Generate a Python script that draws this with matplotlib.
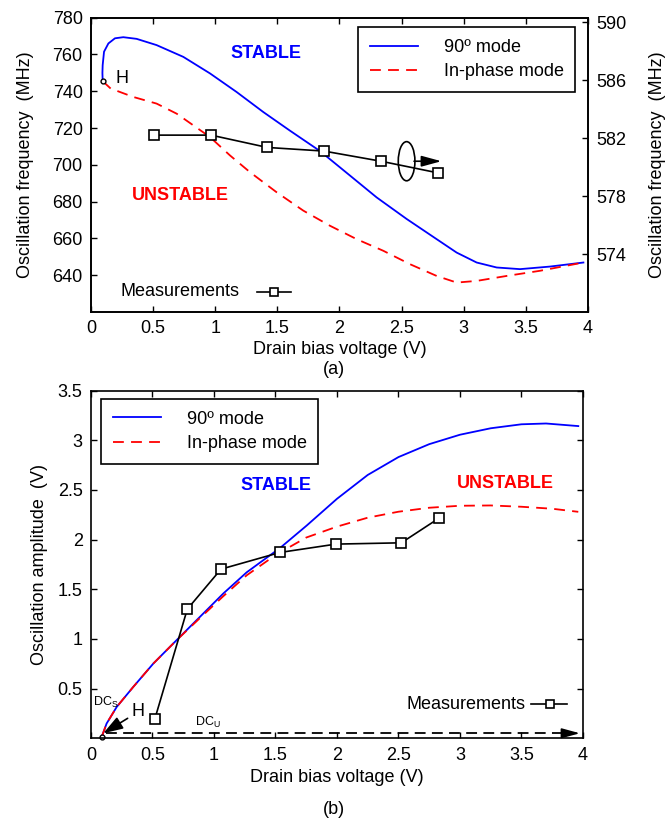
import matplotlib
matplotlib.use("Agg")
import matplotlib.pyplot as plt
from matplotlib.patches import Ellipse
from matplotlib.ticker import FuncFormatter

plt.rcParams['font.family'] = ['Liberation Sans', 'DejaVu Sans']
plt.rcParams['mathtext.fontset'] = 'custom'
plt.rcParams['mathtext.rm'] = 'Liberation Sans'

# ---- data, panel (a): oscillation frequency (MHz) ----
fa_90_x = [0.094, 0.092, 0.094, 0.105, 0.14, 0.193, 0.26, 0.367, 0.528, 0.743, 0.958,
           1.172, 1.387, 1.601, 1.843, 2.084, 2.299, 2.54, 2.782, 2.943, 3.104, 3.265,
           3.453, 3.694, 3.963]
fa_90_y = [745.5, 750, 754.2, 761.5, 766, 768.8, 769.4, 768.5, 765.1, 758.7, 749.7,
           739.6, 728.7, 718.6, 707.5, 694.2, 682.3, 670.6, 659.6, 652.3, 646.9, 644.2,
           643.3, 644.7, 646.9]
fa_ip_x = [0.094, 0.158, 0.341, 0.528, 0.69, 0.823, 0.958, 1.119, 1.28, 1.494, 1.709,
           1.923, 2.138, 2.352, 2.567, 2.782, 2.943, 3.104, 3.345, 3.613, 3.963]
fa_ip_y = [745.5, 741.5, 736.9, 733.3, 727.8, 721.5, 715.1, 705.1, 696.0, 685.1, 675.1,
           666.9, 659.6, 653.3, 646.0, 639.6, 636.0, 636.9, 639.6, 642.4, 646.9]
fa_meas_x = [0.51, 0.966, 1.419, 1.875, 2.334, 2.79]
fa_meas_y = [582.2, 582.2, 581.35, 581.1, 580.4, 579.6]   # right axis (MHz)

# ---- data, panel (b): oscillation amplitude (V) ----
amp_90_x = [0.087, 0.127, 0.209, 0.344, 0.507, 0.696, 0.886, 1.076, 1.266, 1.537,
            1.753, 2.0, 2.25, 2.5, 2.75, 3.0, 3.25, 3.5, 3.7, 3.962]
amp_90_y = [0.013, 0.148, 0.315, 0.517, 0.752, 0.987, 1.222, 1.457, 1.67, 1.915,
            2.14, 2.41, 2.65, 2.83, 2.96, 3.055, 3.12, 3.16, 3.168, 3.142]
amp_ip_x = [0.087, 0.127, 0.209, 0.344, 0.507, 0.696, 0.886, 1.076, 1.266, 1.45, 1.537,
            1.75, 2.0, 2.25, 2.5, 2.75, 3.0, 3.25, 3.5, 3.75, 3.962]
amp_ip_y = [0.013, 0.148, 0.315, 0.517, 0.752, 0.987, 1.21, 1.43, 1.64, 1.80, 1.87,
            2.02, 2.13, 2.22, 2.28, 2.32, 2.34, 2.343, 2.33, 2.31, 2.279]
amp_meas_x = [0.52, 0.783, 1.057, 1.537, 1.992, 2.523, 2.826]
amp_meas_y = [0.198, 1.299, 1.702, 1.87, 1.954, 1.967, 2.212]

xticks = [0, 0.5, 1, 1.5, 2, 2.5, 3, 3.5, 4]
freq_ticks = [640, 660, 680, 700, 720, 740, 760, 780]
freq_ticks_r = [574, 578, 582, 586, 590]
amp_ticks = [0.5, 1, 1.5, 2, 2.5, 3, 3.5]

TICK_FS = 13
LAB_FS = 13
fmt = FuncFormatter(lambda v, p: '%g' % v)

fig = plt.figure(figsize=(6.72, 8.23), dpi=100)
ax1 = fig.add_axes([0.1354, 0.6209, 0.7396, 0.3576])
ax3 = fig.add_axes([0.1354, 0.1030, 0.7321, 0.4225])


def style(ax):
    for s in ax.spines.values():
        s.set_linewidth(1.2)
    ax.tick_params(direction='in', length=4, width=1, labelsize=TICK_FS, pad=6)


def legend(ax, anchor):
    lg = ax.legend(loc='upper left', bbox_to_anchor=anchor, borderaxespad=0,
                   fontsize=LAB_FS, fancybox=False, edgecolor='black', framealpha=1,
                   handlelength=2.7, handletextpad=1.4, labelspacing=0.42,
                   borderpad=0.65)
    lg.get_frame().set_linewidth(1.2)
    return lg


# ---------------- panel (a) ----------------
ax1.plot(fa_90_x, fa_90_y, color='blue', lw=1.3, label='90º mode')
ax1.plot(fa_ip_x, fa_ip_y, color='red', lw=1.3, dashes=(6, 4), label='In-phase mode')
ax1.plot([fa_90_x[0]], [fa_90_y[0]], 'o', mfc='white', mec='black', ms=3.5, mew=1)
ax1.set_xlim(0, 4)
ax1.set_ylim(620, 780)
ax1.set_xticks(xticks)
ax1.set_yticks(freq_ticks)
ax1.xaxis.set_major_formatter(fmt)
style(ax1)
ax1.tick_params(top=True)
ax1.set_xlabel('Drain bias voltage (V)', fontsize=LAB_FS, labelpad=3)
ax1.set_ylabel('Oscillation frequency  (MHz)', fontsize=LAB_FS, labelpad=13)
ax1.text(0.2, 747, 'H', fontsize=13, va='center', ha='left')
ax1.text(1.41, 760.6, 'STABLE', color='blue', fontsize=13, fontweight='bold',
         ha='center', va='center')
ax1.text(0.72, 683.3, 'UNSTABLE', color='red', fontsize=13, fontweight='bold',
         ha='center', va='center')
legend(ax1, (0.537, 0.968))

ax2 = ax1.twinx()
ax2.plot(fa_meas_x, fa_meas_y, '-s', color='black', lw=1.2, ms=7, mfc='white', mew=1.2)
ax2.set_ylim(570, 590.3)
ax2.set_yticks(freq_ticks_r)
style(ax2)
ax2.set_ylabel('Oscillation frequency  (MHz)', fontsize=LAB_FS, labelpad=16)
ax2.add_patch(Ellipse((2.54, 580.4), 0.134, 2.7, fill=False, ec='black', lw=1.2))
ax2.annotate('', xy=(2.82, 580.4), xytext=(2.60, 580.4),
             arrowprops=dict(arrowstyle='-|>,head_length=1.1,head_width=0.3',
                             mutation_scale=11, color='black', lw=1.2,
                             shrinkA=0, shrinkB=0))
ax1.text(0.24, 631, 'Measurements', fontsize=LAB_FS, va='center', ha='left')
ax1.plot([1.34, 1.61], [631, 631], color='black', lw=1.2)
ax1.plot([1.475], [631], 's', mfc='white', mec='black', ms=5.5, mew=1.2)
fig.text(0.497, 1 - 369 / 823, '(a)', fontsize=LAB_FS, ha='center', va='center')

# ---------------- panel (b) ----------------
ax3.plot(amp_90_x, amp_90_y, color='blue', lw=1.3, label='90º mode')
ax3.plot(amp_ip_x, amp_ip_y, color='red', lw=1.3, dashes=(6, 4), label='In-phase mode')
ax3.plot(amp_meas_x, amp_meas_y, '-s', color='black', lw=1.2, ms=7, mfc='white', mew=1.2)
ax3.plot([amp_90_x[0]], [amp_90_y[0]], 'o', mfc='white', mec='black', ms=3.5, mew=1,
         clip_on=False)
ax3.set_xlim(0, 4)
ax3.set_ylim(0, 3.5)
ax3.set_xticks(xticks)
ax3.set_yticks(amp_ticks)
ax3.xaxis.set_major_formatter(fmt)
ax3.yaxis.set_major_formatter(fmt)
style(ax3)
ax3.tick_params(top=True, right=True)
ax3.set_xlabel('Drain bias voltage (V)', fontsize=LAB_FS, labelpad=4)
ax3.set_ylabel('Oscillation amplitude  (V)', fontsize=LAB_FS, labelpad=7)
legend(ax3, (0.0203, 0.9756))
ax3.text(1.5, 2.548, 'STABLE', color='blue', fontsize=13, fontweight='bold',
         ha='center', va='center')
ax3.text(3.37, 2.565, 'UNSTABLE', color='red', fontsize=13, fontweight='bold',
         ha='center', va='center')

# DC_U dashed line with arrowhead
ax3.plot([0.12, 3.9], [0.05, 0.05], color='black', lw=1.3, dashes=(6, 3.5))
ax3.annotate('', xy=(3.975, 0.05), xytext=(3.85, 0.05),
             arrowprops=dict(arrowstyle='-|>,head_length=1.1,head_width=0.3',
                             mutation_scale=10, color='black', lw=1.2,
                             shrinkA=0, shrinkB=0))
ax3.annotate('H', xy=(0.1, 0.05), xytext=(0.33, 0.265), fontsize=13,
             va='center', ha='left',
             arrowprops=dict(arrowstyle='-|>,head_length=1.2,head_width=0.4',
                             mutation_scale=10, color='black', lw=1.2,
                             shrinkA=1, shrinkB=0))
ax3.text(0.015, 0.36, 'DC$_\\mathrm{S}$', fontsize=9, va='center', ha='left')
ax3.text(0.845, 0.16, 'DC$_\\mathrm{U}$', fontsize=9, va='center', ha='left')
ax3.text(2.567, 0.34, 'Measurements', fontsize=LAB_FS, va='center', ha='left')
ax3.plot([3.58, 3.87], [0.34, 0.34], color='black', lw=1.2)
ax3.plot([3.73], [0.34], 's', mfc='white', mec='black', ms=5.5, mew=1.2)
fig.text(0.497, 1 - 810 / 823, '(b)', fontsize=LAB_FS, ha='center', va='center')

fig.savefig('out.png', dpi=100)
